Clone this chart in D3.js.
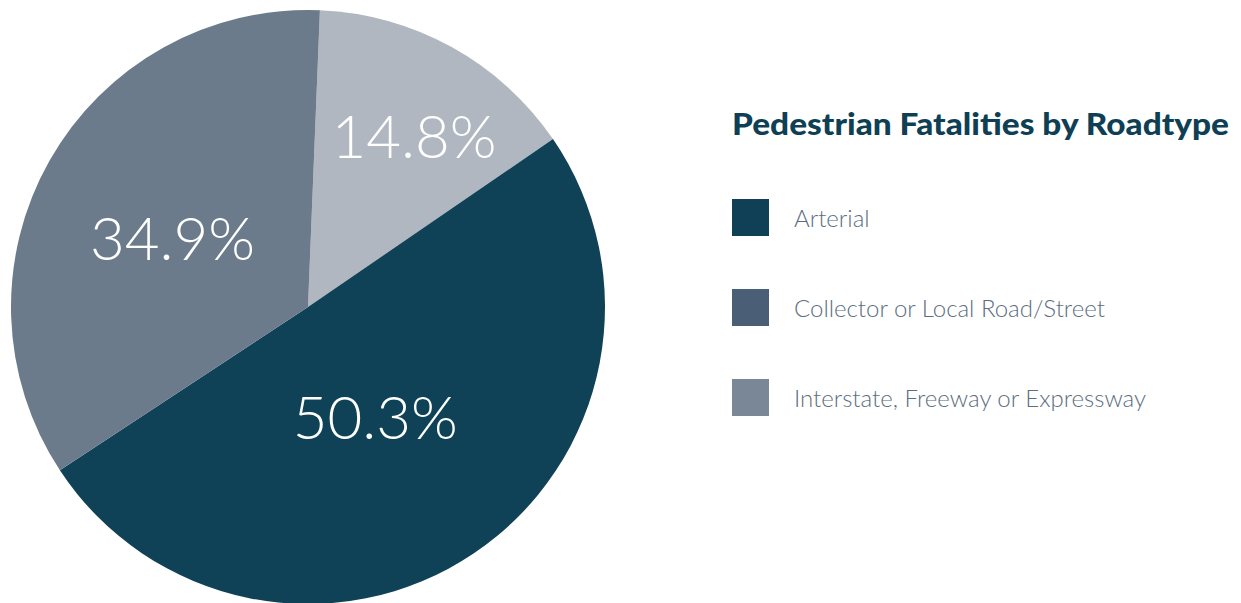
<!DOCTYPE html>
<html><head><meta charset="utf-8">
<script src="https://cdn.jsdelivr.net/npm/d3@7"></script>
<style>html,body{margin:0;padding:0;background:#fff;overflow:hidden}</style>
</head><body>
<svg id="c" width="1241" height="603"></svg>
<script>
// Data
const categories = ["Interstate, Freeway or Expressway", "Arterial", "Collector or Local Road/Street"];
const values = [14.8, 50.3, 34.9];
const sliceColors = ["#b0b7c1", "#0f4256", "#6b7b8b"];
const legendCategories = ["Arterial", "Collector or Local Road/Street", "Interstate, Freeway or Expressway"];
const legendColors = ["#0f4055", "#4a5f75", "#7a8797"];
const labelRadiusFactor = [0.675, 0.435, 0.512];
const labelAngleShift = [3, 2.5, -2.5]; // degrees
const title = "Pedestrian Fatalities by Roadtype";

const svg = d3.select("#c");
const cx = 308, cy = 307, r = 297;
const startAngle = 2.3 * Math.PI / 180;

const pie = d3.pie().sort(null).value(d => d).startAngle(startAngle).endAngle(startAngle + 2 * Math.PI);
const arcs = pie(values);
const arc = d3.arc().innerRadius(0).outerRadius(r);
const g = svg.append("g").attr("transform", `translate(${cx},${cy})`);
g.selectAll("path").data(arcs).join("path")
  .attr("d", arc).attr("fill", (d, i) => sliceColors[i]);

const fontPx = 60;
g.selectAll("text").data(arcs).join("text")
  .each(function (d, i) {
    const lr = r * labelRadiusFactor[i];
    const a = (d.startAngle + d.endAngle) / 2 + labelAngleShift[i] * Math.PI / 180;
    d3.select(this).attr("x", lr * Math.sin(a)).attr("y", -lr * Math.cos(a) + fontPx * 0.36);
  })
  .attr("text-anchor", "middle")
  .attr("fill", "#fff")
  .style("font-family", "Lato, 'Open Sans', sans-serif")
  .style("font-weight", 300)
  .style("font-size", fontPx + "px")
  .text(d => d.value.toFixed(1) + "%");

// Legend
svg.append("text").attr("x", 732).attr("y", 135)
  .attr("fill", "#0f3f55")
  .style("font-family", "Lato, 'Open Sans', sans-serif")
  .style("font-weight", 900)
  .style("font-size", "30px")
  .attr("textLength", 497).attr("lengthAdjust", "spacingAndGlyphs")
  .text(title);

const ly = d3.scalePoint().domain(legendCategories).range([199, 379]);
const lg = svg.append("g");
lg.selectAll("rect").data(legendCategories).join("rect")
  .attr("x", 732).attr("y", d => ly(d)).attr("width", 37).attr("height", 37)
  .attr("fill", (d, i) => legendColors[i]);
lg.selectAll("text").data(legendCategories).join("text")
  .attr("x", 794).attr("y", d => ly(d) + 28)
  .attr("fill", "#5c6e80")
  .style("font-family", "Lato, 'Open Sans', sans-serif")
  .style("font-weight", 300)
  .style("font-size", "24px")
  .text(d => d);
</script>
</body></html>
